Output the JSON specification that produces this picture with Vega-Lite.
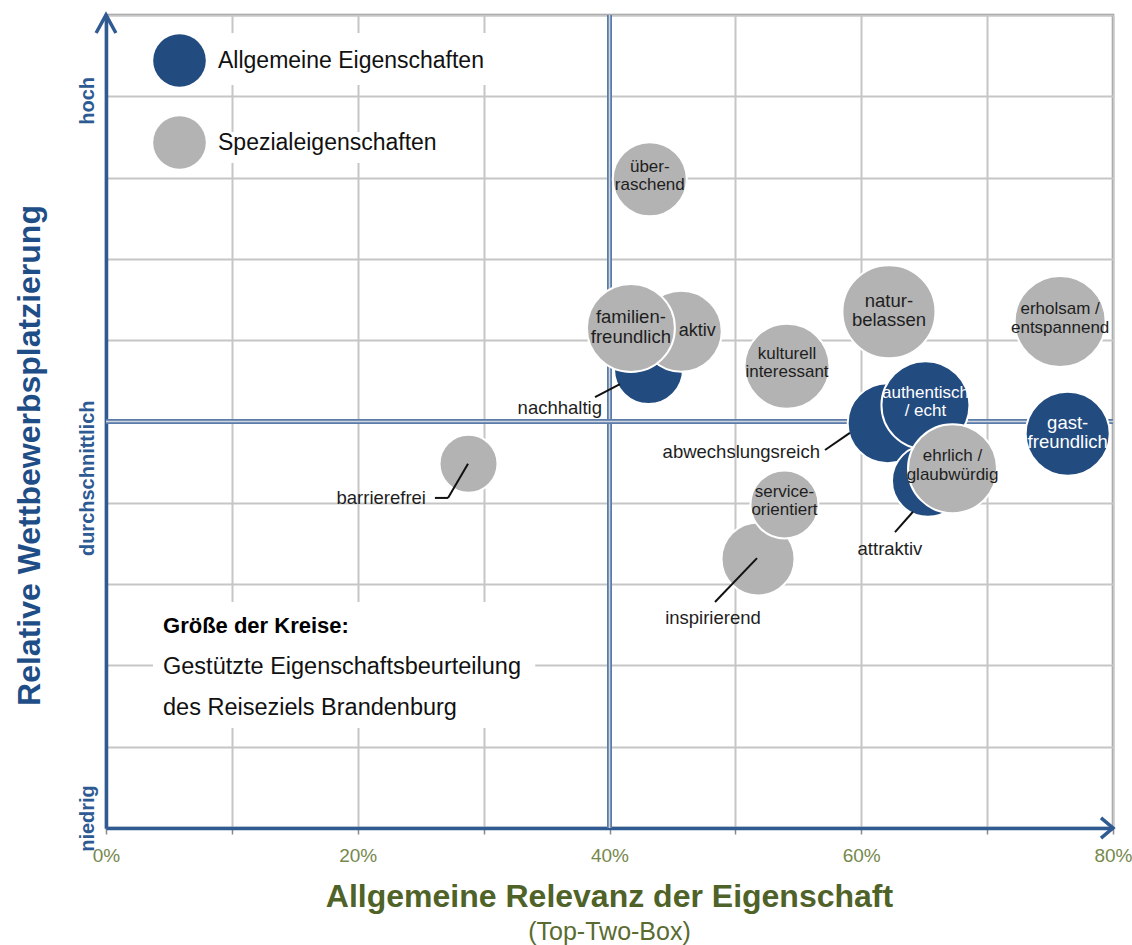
{
  "$schema": "https://vega.github.io/schema/vega-lite/v6.json",
  "width": 1007,
  "height": 813,
  "autosize": {"type": "none"},
  "padding": {"left": 106, "top": 15, "right": 19, "bottom": 117},
  "background": "white",
  "config": {
    "font": "Liberation Sans",
    "view": {"stroke": "#939393", "strokeWidth": 2.5}
  },
  "title": {
    "text": "Allgemeine Relevanz der Eigenschaft",
    "subtitle": "(Top-Two-Box)",
    "orient": "bottom",
    "anchor": "middle",
    "font": "Liberation Sans",
    "fontSize": 32,
    "fontWeight": "bold",
    "color": "#4f6228",
    "subtitleFont": "Liberation Sans",
    "subtitleFontSize": 25,
    "subtitleColor": "#5a6b30",
    "subtitlePadding": 6,
    "offset": 17
  },
  "datasets": {
    "bubbles": [
      {"name": "barrierefrei", "label": null, "typ": "Spezialeigenschaften", "relevanz": 28.8, "wettbewerb": 4.48, "beurteilung": 33.6},
      {"name": "überraschend", "label": "über-\nraschend", "typ": "Spezialeigenschaften", "relevanz": 43.2, "wettbewerb": 7.98, "beurteilung": 54.8},
      {"name": "nachhaltig", "label": null, "typ": "Allgemeine Eigenschaften", "relevanz": 43.1, "wettbewerb": 5.64, "beurteilung": 47.6},
      {"name": "aktiv", "label": "aktiv", "typ": "Spezialeigenschaften", "relevanz": 45.7, "wettbewerb": 6.11, "beurteilung": 65.6},
      {"name": "familienfreundlich", "label": "familien-\nfreundlich", "typ": "Spezialeigenschaften", "relevanz": 41.7, "wettbewerb": 6.15, "beurteilung": 77.4},
      {"name": "kulturell interessant", "label": "kulturell\ninteressant", "typ": "Spezialeigenschaften", "relevanz": 54.1, "wettbewerb": 5.68, "beurteilung": 72.2},
      {"name": "naturbelassen", "label": "natur-\nbelassen", "typ": "Spezialeigenschaften", "relevanz": 62.2, "wettbewerb": 6.35, "beurteilung": 86.5},
      {"name": "erholsam / entspannend", "label": "erholsam /\nentspannend", "typ": "Spezialeigenschaften", "relevanz": 75.8, "wettbewerb": 6.23, "beurteilung": 82.8},
      {"name": "gastfreundlich", "label": "gast-\nfreundlich", "typ": "Allgemeine Eigenschaften", "relevanz": 76.4, "wettbewerb": 4.85, "beurteilung": 70.6},
      {"name": "abwechslungsreich", "label": null, "typ": "Allgemeine Eigenschaften", "relevanz": 62.1, "wettbewerb": 4.98, "beurteilung": 64.0},
      {"name": "authentisch / echt", "label": "authentisch\n/ echt", "typ": "Allgemeine Eigenschaften", "relevanz": 65.1, "wettbewerb": 5.2, "beurteilung": 77.4},
      {"name": "attraktiv", "label": null, "typ": "Allgemeine Eigenschaften", "relevanz": 65.3, "wettbewerb": 4.27, "beurteilung": 51.8},
      {"name": "ehrlich / glaubwürdig", "label": "ehrlich /\nglaubwürdig", "typ": "Spezialeigenschaften", "relevanz": 67.25, "wettbewerb": 4.42, "beurteilung": 79.2},
      {"name": "inspirierend", "label": null, "typ": "Spezialeigenschaften", "relevanz": 51.8, "wettbewerb": 3.31, "beurteilung": 53.3},
      {"name": "service-orientiert", "label": "service-\norientiert", "typ": "Spezialeigenschaften", "relevanz": 53.9, "wettbewerb": 3.98, "beurteilung": 46.2}
    ],
    "one": [{}]
  },
  "layer": [
    {
      "data": {"name": "one"},
      "mark": {"type": "rect", "color": "white"},
      "encoding": {"x": {"datum": 3.73}, "x2": {"datum": 34.1}, "y": {"datum": 2.78}, "y2": {"datum": 1.23}}
    },
    {
      "data": {"name": "one"},
      "mark": {"type": "rect", "color": "white"},
      "encoding": {"x": {"datum": 8.26}, "x2": {"datum": 31.7}, "y": {"datum": 9.78}, "y2": {"datum": 9.14}}
    },
    {
      "data": {"name": "one"},
      "mark": {"type": "rect", "color": "white"},
      "encoding": {"x": {"datum": 8.26}, "x2": {"datum": 27.33}, "y": {"datum": 8.56}, "y2": {"datum": 8.18}}
    },
    {"data": {"name": "one"}, "mark": {"type": "rule", "color": "#5b7cab", "strokeWidth": 5}, "encoding": {"x": {"datum": 40}}},
    {"data": {"name": "one"}, "mark": {"type": "rule", "color": "#d0d5dc", "strokeWidth": 1.5}, "encoding": {"x": {"datum": 40}}},
    {"data": {"name": "one"}, "mark": {"type": "rule", "color": "#5b7cab", "strokeWidth": 5}, "encoding": {"y": {"datum": 5}}},
    {"data": {"name": "one"}, "mark": {"type": "rule", "color": "#d0d5dc", "strokeWidth": 1.5}, "encoding": {"y": {"datum": 5}}},
    {
      "data": {"name": "bubbles"},
      "mark": {"type": "circle", "opacity": 1, "stroke": "white", "strokeWidth": 2},
      "encoding": {
        "x": {
          "field": "relevanz", "type": "quantitative",
          "scale": {"domain": [0, 80], "nice": false, "zero": false},
          "axis": {
            "title": null,
            "grid": true,
            "values": [0, 10, 20, 30, 40, 50, 60, 70, 80],
            "labelExpr": "datum.value % 20 === 0 ? datum.value + '%' : ''",
            "labelColor": "#76884c",
            "labelFontSize": 19,
            "labelPadding": 12,
            "labelFlush": false,
            "labelOverlap": false,
            "tickColor": "#8a8a8a",
            "tickSize": 6,
            "tickWidth": 1.5,
            "domainColor": "#2f5a92",
            "domainWidth": 3.5,
            "gridColor": "#c6c6c6",
            "gridWidth": 2
          }
        },
        "y": {
          "field": "wettbewerb", "type": "quantitative",
          "scale": {"domain": [0, 10], "nice": false, "zero": false},
          "axis": {
            "title": "Relative Wettbewerbsplatzierung",
            "grid": true,
            "titleFontSize": 32,
            "titleFontWeight": "bold",
            "titleColor": "#1f4e87",
            "titleAngle": 270,
            "titleAlign": "center",
            "titleBaseline": "alphabetic",
            "titleX": -67,
            "titleY": 440,
            "values": [0, 1, 2, 3, 4, 5, 6, 7, 8, 9, 10],
            "labelExpr": "datum.value === 9 ? 'hoch' : datum.value === 4 ? 'durchschnittlich' : datum.value === 0 ? 'niedrig' : ''",
            "labelAngle": 270,
            "labelAlign": "center",
            "labelBaseline": "alphabetic",
            "labelPadding": 13,
            "labelFontSize": 20,
            "labelFontWeight": "bold",
            "labelColor": "#2e5a93",
            "labelFlush": false,
            "labelOverlap": false,
            "labelBound": false,
            "labelOffset": {"condition": [{"test": "datum.value === 4", "value": -25}, {"test": "datum.value === 0", "value": -10}], "value": 4},
            "ticks": false,
            "domainColor": "#2f5a92",
            "domainWidth": 3.5,
            "gridColor": "#c6c6c6",
            "gridWidth": 2
          }
        },
        "size": {"field": "beurteilung", "type": "quantitative", "scale": {"domain": [0, 100], "range": [0, 10000]}, "legend": null},
        "color": {
          "field": "typ", "type": "nominal",
          "scale": {"domain": ["Allgemeine Eigenschaften", "Spezialeigenschaften"], "range": ["#224b80", "#b3b3b3"]},
          "legend": {
            "title": null,
            "orient": "none",
            "legendX": 47,
            "legendY": 19,
            "direction": "vertical",
            "symbolType": "circle",
            "symbolSize": 2770,
            "symbolStrokeWidth": 0,
            "labelFontSize": 23,
            "labelColor": "#111111",
            "labelOffset": 12,
            "labelLimit": 500,
            "rowPadding": 29,
            "padding": 0
          }
        }
      }
    },
    {
      "data": {"name": "bubbles"},
      "transform": [{"filter": "indexof(['familienfreundlich', 'naturbelassen', 'gastfreundlich'], datum.name) >= 0"}],
      "mark": {"type": "text", "fontSize": 18.5, "lineBreak": "\n", "lineHeight": 19.5, "baseline": "middle", "align": "center", "dy": -11},
      "encoding": {
        "x": {"field": "relevanz", "type": "quantitative"},
        "y": {"field": "wettbewerb", "type": "quantitative"},
        "text": {"field": "label"},
        "color": {"condition": {"test": "datum.typ === 'Allgemeine Eigenschaften'", "value": "white"}, "value": "#1e1e1e"}
      }
    },
    {
      "data": {"name": "bubbles"},
      "transform": [{"filter": "datum.label != null && indexof(['familienfreundlich', 'naturbelassen', 'gastfreundlich', 'aktiv'], datum.name) < 0"}],
      "mark": {"type": "text", "fontSize": 17, "lineBreak": "\n", "lineHeight": 18.5, "baseline": "middle", "align": "center", "dy": -12.5},
      "encoding": {
        "x": {"field": "relevanz", "type": "quantitative"},
        "y": {"field": "wettbewerb", "type": "quantitative"},
        "text": {"field": "label"},
        "color": {"condition": {"test": "datum.typ === 'Allgemeine Eigenschaften'", "value": "white"}, "value": "#1e1e1e"}
      }
    },
    {
      "data": {"name": "bubbles"},
      "transform": [{"filter": "datum.name === 'aktiv'"}],
      "mark": {"type": "text", "fontSize": 18, "baseline": "middle", "align": "center", "dx": 16, "color": "#1e1e1e"},
      "encoding": {
        "x": {"field": "relevanz", "type": "quantitative"},
        "y": {"field": "wettbewerb", "type": "quantitative"},
        "text": {"field": "label"}
      }
    },
    {"data": {"name": "one"}, "mark": {"type": "rule", "color": "#111111", "strokeWidth": 2}, "encoding": {"x": {"datum": 38.85}, "y": {"datum": 5.3}, "x2": {"datum": 40.83}, "y2": {"datum": 5.46}}},
    {"data": {"name": "one"}, "mark": {"type": "rule", "color": "#111111", "strokeWidth": 2}, "encoding": {"x": {"datum": 57.12}, "y": {"datum": 4.65}, "x2": {"datum": 59.1}, "y2": {"datum": 4.86}}},
    {"data": {"name": "one"}, "mark": {"type": "rule", "color": "#111111", "strokeWidth": 2}, "encoding": {"x": {"datum": 62.68}, "y": {"datum": 3.64}, "x2": {"datum": 64.11}, "y2": {"datum": 3.89}}},
    {"data": {"name": "one"}, "mark": {"type": "rule", "color": "#111111", "strokeWidth": 2}, "encoding": {"x": {"datum": 48.38}, "y": {"datum": 2.78}, "x2": {"datum": 51.72}, "y2": {"datum": 3.32}}},
    {"data": {"name": "one"}, "mark": {"type": "rule", "color": "#111111", "strokeWidth": 2}, "encoding": {"x": {"datum": 26.13}, "y": {"datum": 4.06}, "x2": {"datum": 27.17}, "y2": {"datum": 4.06}}},
    {"data": {"name": "one"}, "mark": {"type": "rule", "color": "#111111", "strokeWidth": 2}, "encoding": {"x": {"datum": 27.17}, "y": {"datum": 4.06}, "x2": {"datum": 28.76}, "y2": {"datum": 4.48}}},
    {"data": {"name": "one"}, "mark": {"type": "text", "fontSize": 18.5, "align": "right", "baseline": "middle", "color": "#1e1e1e"}, "encoding": {"x": {"datum": 39.4}, "y": {"datum": 5.17}, "text": {"value": "nachhaltig"}}},
    {"data": {"name": "one"}, "mark": {"type": "text", "fontSize": 18.5, "align": "right", "baseline": "middle", "color": "#1e1e1e"}, "encoding": {"x": {"datum": 56.72}, "y": {"datum": 4.625}, "text": {"value": "abwechslungsreich"}}},
    {"data": {"name": "one"}, "mark": {"type": "text", "fontSize": 18.5, "align": "right", "baseline": "middle", "color": "#1e1e1e"}, "encoding": {"x": {"datum": 25.42}, "y": {"datum": 4.06}, "text": {"value": "barrierefrei"}}},
    {"data": {"name": "one"}, "mark": {"type": "text", "fontSize": 18.5, "align": "center", "baseline": "middle", "color": "#1e1e1e"}, "encoding": {"x": {"datum": 62.28}, "y": {"datum": 3.43}, "text": {"value": "attraktiv"}}},
    {"data": {"name": "one"}, "mark": {"type": "text", "fontSize": 18.5, "align": "center", "baseline": "middle", "color": "#1e1e1e"}, "encoding": {"x": {"datum": 48.22}, "y": {"datum": 2.58}, "text": {"value": "inspirierend"}}},
    {"data": {"name": "one"}, "mark": {"type": "text", "fontSize": 22, "fontWeight": "bold", "align": "left", "baseline": "middle", "color": "#000000"}, "encoding": {"x": {"datum": 4.53}, "y": {"datum": 2.485}, "text": {"value": "Größe der Kreise:"}}},
    {"data": {"name": "one"}, "mark": {"type": "text", "fontSize": 23.5, "align": "left", "baseline": "middle", "color": "#111111"}, "encoding": {"x": {"datum": 4.53}, "y": {"datum": 1.98}, "text": {"value": "Gestützte Eigenschaftsbeurteilung"}}},
    {"data": {"name": "one"}, "mark": {"type": "text", "fontSize": 23.5, "align": "left", "baseline": "middle", "color": "#111111"}, "encoding": {"x": {"datum": 4.53}, "y": {"datum": 1.476}, "text": {"value": "des Reiseziels Brandenburg"}}},
    {"data": {"name": "one"}, "mark": {"type": "point", "shape": "M-0.55,1L0,0L0.55,1", "filled": false, "stroke": "#2f5a92", "strokeWidth": 3.5, "size": 1296, "opacity": 1}, "encoding": {"x": {"datum": 0}, "y": {"datum": 10}}},
    {"data": {"name": "one"}, "mark": {"type": "point", "shape": "M-1,-0.85L0,0L-1,0.85", "filled": false, "stroke": "#2f5a92", "strokeWidth": 3.5, "size": 576, "opacity": 1}, "encoding": {"x": {"datum": 80}, "y": {"datum": 0}}}
  ]
}
